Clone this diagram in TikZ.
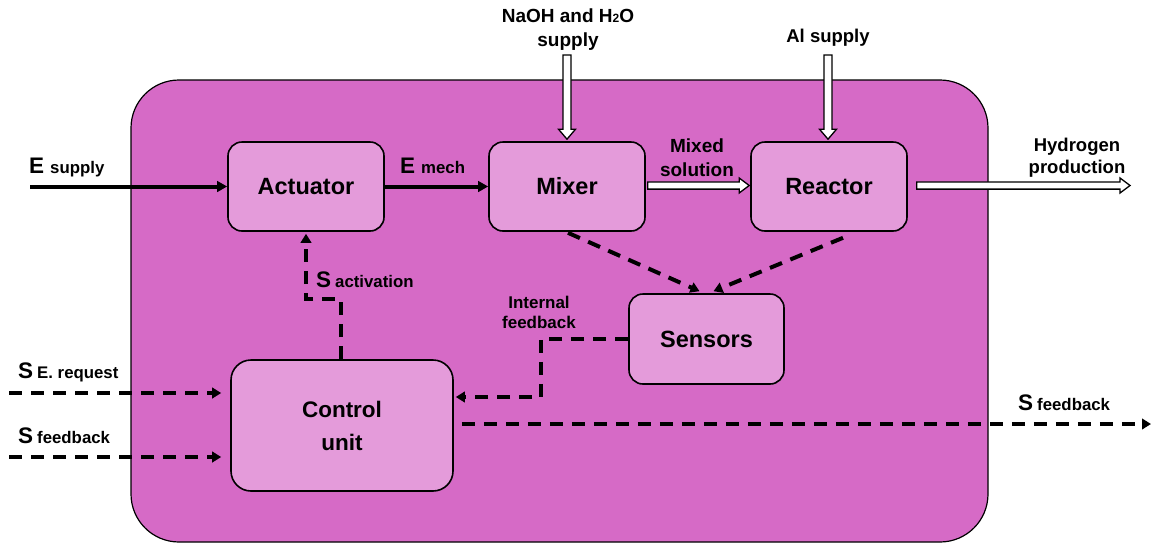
\documentclass[tikz,border=0pt]{standalone}
\usepackage{fontspec}
\setmainfont{Liberation Sans}
\usetikzlibrary{arrows.meta,calc,shadows}
\definecolor{outerc}{RGB}{214,106,198}
\definecolor{innerc}{RGB}{228,155,218}
\newcommand\myBig[1]{{\fontsize{22.5}{22}\selectfont #1}}
\newcommand\mySub[1]{{\fontsize{16.8}{16}\selectfont #1}}
\newcommand\hollowH[2]{%
  \draw[hollow] let \p1=(#1),\p2=(#2) in
    (\x1,\y1+3.6pt) -- (\x2-10pt,\y1+3.6pt) -- (\x2-10pt,\y1+7.5pt) -- (\x2,\y1)
    -- (\x2-10pt,\y1-7.5pt) -- (\x2-10pt,\y1-3.6pt) -- (\x1,\y1-3.6pt) -- cycle;}
\newcommand\hollowV[2]{%
  \draw[hollow] let \p1=(#1),\p2=(#2) in
    (\x1-4pt,\y1) -- (\x1-4pt,\y2+10pt) -- (\x1-8.5pt,\y2+10pt) -- (\x1,\y2)
    -- (\x1+8.5pt,\y2+10pt) -- (\x1+4pt,\y2+10pt) -- (\x1+4pt,\y1) -- cycle;}
\begin{document}
\begin{tikzpicture}[x=1pt,y=-1pt,
  block/.style={draw=black, line width=1.6pt, fill=innerc, rounded corners=14pt,
    inner sep=0pt, font=\bfseries\fontsize{23.5}{33}\selectfont, align=center,
    drop shadow={opacity=0.25, shadow xshift=0.8pt, shadow yshift=-1pt}},
  power/.style={line width=4pt, -{Triangle[length=10pt,width=10.5pt]}},
  sig/.style={line width=4pt, dash pattern=on 13pt off 9pt, -{Triangle[length=9pt,width=10.5pt]}},
  hollow/.style={draw=black, fill=white, line width=1.3pt, line join=miter},
  lab/.style={font=\bfseries, inner sep=0pt, text=black}
]
\useasboundingbox (0,0) rectangle (1151,547);
\fill[white] (0,0) rectangle (1151,547);

% container
\node[draw=black, line width=1.2pt, fill=outerc, rounded corners=48pt,
  minimum width=857pt, minimum height=462pt, inner sep=0pt] (frame) at (559.5,311) {};

% blocks
\node[block, minimum width=156pt, minimum height=89pt] (actuator) at (306,186.5) {Actuator};
\node[block, minimum width=156pt, minimum height=89pt] (mixer) at (567,186.5) {Mixer};
\node[block, minimum width=156pt, minimum height=89pt] (reactor) at (829,186.5) {Reactor};
\node[block, minimum width=155pt, minimum height=90pt] (sensors) at (706.5,339) {Sensors};
\node[block, minimum width=222pt, minimum height=131pt, rounded corners=20pt,
  font=\bfseries\fontsize{22.5}{33}\selectfont] (control) at (342,425.5) {Control\\unit};

% coordinates
\coordinate (esup) at (30,186.5);
\coordinate (naohtop) at (567,55);
\coordinate (altop) at (828,55);
\coordinate (h2end) at (1130,185.5);
\coordinate (actturn) at (341,299);
\coordinate (ifb) at (541,397);
\coordinate (serq) at (9,393);
\coordinate (sfbin) at (9,457);
\coordinate (sfbout) at (1151,424);

% solid energy arrows
\draw[power] (esup) -- (actuator.west);
\draw[power] (actuator.east) -- (mixer.west);

% hollow material arrows
\hollowV{naohtop}{$(mixer.north)+(0,-2)$}
\hollowV{altop}{$(reactor.north)+(-1,-2)$}
\hollowH{$(mixer.east)+(2,-1)$}{$(reactor.west)+(-1,-1)$}
\hollowH{$(reactor.east)+(9,-1)$}{h2end}

% dashed signals
\draw[sig] ($(mixer.south)+(1,1)$) -- ($(sensors.north)+(-7,-2)$);
\draw[sig] ($(reactor.south)+(14,6)$) -- ($(sensors.north)+(7,-2)$);
\draw[sig, shorten >=2pt] (sensors.west) -| (ifb) -- (control.east |- ifb);
\draw[sig, shorten >=2pt] (control.north -| actturn) -- (actturn) -| (actuator.south);
\draw[sig, shorten >=9pt] (serq) -- (control.west |- serq);
\draw[sig, shorten >=9pt] (sfbin) -- (control.west |- sfbin);
\draw[sig] ($(control.east |- sfbout)+(8,0)$) -- (sfbout);

% labels
\node[lab, anchor=base west] (lesup) at (29,173) {\myBig{E}\hspace{6pt}\mySub{supply}};
\node[lab, anchor=base west] (lemech) at (400,173) {\myBig{E}\hspace{6pt}\mySub{mech}};
\node[lab, anchor=base west] (lsact) at (316,287) {\myBig{S}\hspace{4pt}\mySub{activation}};
\node[lab, anchor=base west] (lser) at (18,378) {\myBig{S}\hspace{4pt}\mySub{E. request}};
\node[lab, anchor=base west] (lsfbin) at (18,443) {\myBig{S}\hspace{4pt}\mySub{feedback}};
\node[lab, anchor=base west] (lsfbout) at (1018,410) {\myBig{S}\hspace{4pt}\mySub{feedback}};
\node[lab, anchor=base, font=\bfseries\fontsize{19}{24}\selectfont] (lnaoh) at (568,22)
  {\begin{tabular}[t]{@{}c@{}}NaOH and H\raisebox{-0.5pt}{\fontsize{12}{12}\selectfont 2}O\\supply\end{tabular}};
\node[lab, anchor=base, font=\bfseries\fontsize{18.5}{24}\selectfont] (lal) at (828,42) {Al supply};
\node[lab, anchor=base, font=\bfseries\fontsize{19}{24}\selectfont] (lmix) at (697,152)
  {\begin{tabular}[t]{@{}c@{}}Mixed\\solution\end{tabular}};
\node[lab, anchor=base, font=\bfseries\fontsize{18.5}{22}\selectfont] (lh2) at (1077,151)
  {\begin{tabular}[t]{@{}c@{}}Hydrogen\\production\end{tabular}};
\node[lab, anchor=base, font=\bfseries\fontsize{17}{20}\selectfont] (lifb) at (539,308)
  {\begin{tabular}[t]{@{}c@{}}Internal\\feedback\end{tabular}};
\end{tikzpicture}
\end{document}
